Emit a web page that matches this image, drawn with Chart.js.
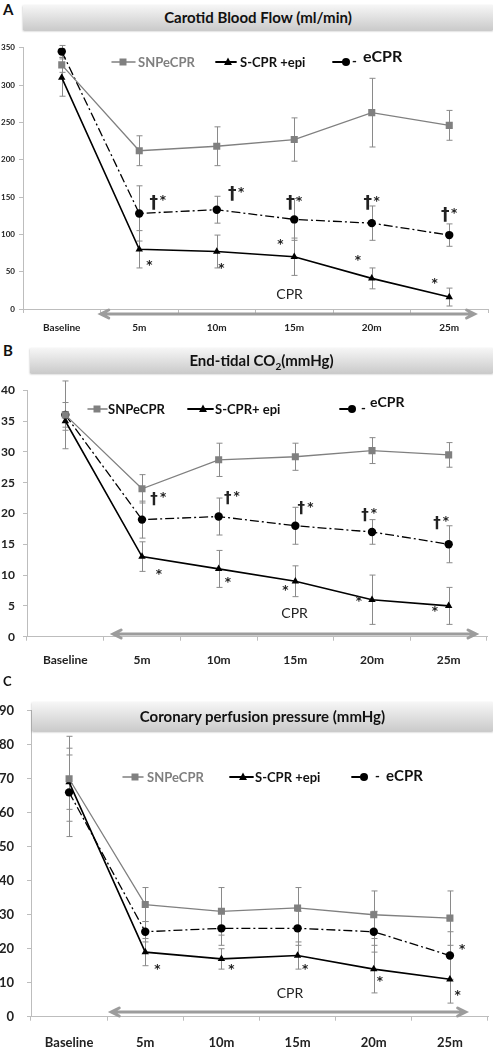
<!DOCTYPE html>
<html>
<head>
<meta charset="utf-8">
<script src="https://cdn.jsdelivr.net/npm/chart.js"></script>
<style>
  body { margin: 0; background: #fff; font-family: Lato, sans-serif; }
  #wrap { position: relative; width: 493px; height: 1048px; overflow: hidden; }
  canvas { position: absolute; left: 0; }
  .letter { position: absolute; left: 3px; font: bold 15px Lato, sans-serif; color: #111; }
  .ttl {
    position: absolute; right: 0; text-align: center; color: #111;
    font: bold 15px Lato, sans-serif;
    background: linear-gradient(#f6f6f6, #cbcbcb);
    box-shadow: 0 1px 2px rgba(0,0,0,.3);
    z-index: 2;
  }
</style>
</head>
<body>
<div id="wrap">
  <div class="letter" style="top:0px">A</div>
  <div class="ttl" style="left:23px;top:5px;height:25px;line-height:25px">Carotid Blood Flow (ml/min)</div>
  <canvas id="cA" width="493" height="305" style="top:35px"></canvas>

  <div class="letter" style="top:341px">B</div>
  <div class="ttl" style="left:30px;top:348px;height:25px;line-height:25px">End-tidal CO<sub style="font-size:10px">2</sub>(mmHg)</div>
  <canvas id="cB" width="493" height="300" style="top:375px"></canvas>

  <div class="letter" style="top:673px;font-size:13px">C</div>
  <div class="ttl" style="left:32px;top:702px;height:29px;line-height:29px">Coronary perfusion pressure (mmHg)</div>
  <canvas id="cC" width="493" height="358" style="top:690px"></canvas>
</div>

<script>
// x categories
var categories = ["Baseline", "5m", "10m", "15m", "20m", "25m"];
var namesA = ["SNPeCPR", "S-CPR +epi", "eCPR"];
var namesB = ["SNPeCPR", "S-CPR+ epi", "eCPR"];

// A - carotid blood flow (ml/min)
var flowSNP = [327, 212, 218, 227, 263, 246];
var flowSNPErr = [10, 20, 26, 29, 46, 20];
var flowEpi = [310, 80, 77, 70, 41, 16];
var flowEpiErr = [25, 25, 22, 25, 14, 12];
var flowE = [345, 128, 133, 120, 115, 99];
var flowEErr = [8, 37, 18, 28, 23, 15];
var flowDagger = [[1.24, 143], [2.25, 154], [3.0, 142], [4.0, 142], [5.0, 126]];
var flowStar = [[1.13, 60], [2.06, 56], [2.82, 88], [3.82, 67], [4.81, 37]];

// B - end-tidal CO2 (mmHg)
var etSNP = [36, 24, 28.7, 29.2, 30.2, 29.5];
var etSNPErr = [2, 2.3, 2.7, 2.2, 2.1, 2];
var etEpi = [35, 13, 11, 9, 6, 5];
var etEpiErr = [1.5, 2.4, 3, 2.5, 4, 3];
var etE = [36, 19, 19.5, 18, 17, 15];
var etEErr = [5.5, 3, 3, 3, 2, 3];
var etDagger = [[1.21, 22.4], [2.17, 22.5], [3.13, 20.8], [3.96, 19.7], [4.9, 18.4]];
var etStar = [[1.22, 10.4], [2.12, 9.0], [2.87, 7.7], [3.83, 6.0], [4.82, 4.4]];

// C - coronary perfusion pressure (mmHg)
var cppSNP = [70, 33, 31, 32, 30, 29];
var cppSNPErr = [12.5, 5, 7, 6, 7, 8];
var cppEpi = [69, 19, 17, 18, 14, 11];
var cppEpiErr = [8, 4, 3, 4, 7, 7];
var cppE = [66, 25, 26, 26, 25, 18];
var cppEErr = [13, 3, 5, 5, 6, 7];
var cppStar = [[1.16, 14.3], [2.13, 14.3], [3.1, 14.3], [4.08, 10.8], [5.1, 6.8], [5.16, 20.3]];

function drawMark(ctx, kind, x, y, r, color) {
  ctx.fillStyle = color;
  ctx.beginPath();
  if (kind === "rect") {
    ctx.rect(x - r, y - r, 2 * r, 2 * r);
  } else if (kind === "triangle") {
    ctx.moveTo(x, y - r * 1.1);
    ctx.lineTo(x + r, y + r * 0.75);
    ctx.lineTo(x - r, y + r * 0.75);
    ctx.closePath();
  } else {
    ctx.arc(x, y, r, 0, Math.PI * 2);
  }
  ctx.fill();
}

var extras = {
  id: "extras",
  beforeDatasetsDraw: function (chart, args, o) {
    var ctx = chart.ctx, xs = chart.scales.x, ys = chart.scales.y;
    ctx.save();
    ctx.strokeStyle = "#8a8a8a";
    ctx.lineWidth = 1;
    o.errors.forEach(function (err, d) {
      var vals = chart.data.datasets[d].data;
      err.forEach(function (e, i) {
        var px = Math.round(xs.getPixelForValue(i)) + 0.5;
        var t = ys.getPixelForValue(vals[i] + e), b = ys.getPixelForValue(vals[i] - e);
        ctx.beginPath();
        ctx.moveTo(px, t); ctx.lineTo(px, b);
        ctx.moveTo(px - 3, t); ctx.lineTo(px + 3, t);
        ctx.moveTo(px - 3, b); ctx.lineTo(px + 3, b);
        ctx.stroke();
      });
    });
    ctx.restore();
  },
  afterDraw: function (chart, args, o) {
    var ctx = chart.ctx, xs = chart.scales.x, ys = chart.scales.y, area = chart.chartArea;
    ctx.save();

    // CPR double arrow
    var a0 = xs.getPixelForValue(o.arrow[0]), a1 = xs.getPixelForValue(o.arrow[1]);
    var ay = area.bottom + o.arrowDy;
    ctx.strokeStyle = "#9c9c9c";
    ctx.lineWidth = 3;
    ctx.lineCap = "round";
    ctx.beginPath();
    ctx.moveTo(a0 + 2, ay); ctx.lineTo(a1 - 2, ay);
    ctx.moveTo(a0 + 9, ay - 4); ctx.lineTo(a0 + 1, ay); ctx.lineTo(a0 + 9, ay + 4);
    ctx.moveTo(a1 - 9, ay - 4); ctx.lineTo(a1 - 1, ay); ctx.lineTo(a1 - 9, ay + 4);
    ctx.stroke();

    ctx.fillStyle = "#222";
    ctx.textAlign = "center";
    ctx.textBaseline = "middle";
    ctx.font = "14px Lato";
    ctx.fillText("CPR", xs.getPixelForValue(o.cpr[0]), ys.getPixelForValue(o.cpr[1]));

    // significance marks
    (o.daggers || []).forEach(function (p) {
      var px = xs.getPixelForValue(p[0]), py = ys.getPixelForValue(p[1]);
      ctx.font = "bold " + o.daggerSize + "px 'DejaVu Sans'";
      ctx.fillText("\u2020", px - 4, py + 1);
      ctx.font = "bold 12px 'DejaVu Sans'";
      ctx.fillText("*", px + 5, py - 1);
    });
    ctx.font = "bold 12px 'DejaVu Sans'";
    (o.stars || []).forEach(function (p) {
      ctx.fillText("*", xs.getPixelForValue(p[0]), ys.getPixelForValue(p[1]) + 2);
    });

    // legend
    var lg = o.legend, names = chart.data.datasets.map(function (d) { return d.label; });
    var kinds = ["rect", "triangle", "circle"], cols = ["#808080", "#000", "#000"];
    ctx.textAlign = "left";
    lg.items.forEach(function (it, i) {
      ctx.strokeStyle = cols[i];
      ctx.lineWidth = i === 0 ? 1.5 : 1.8;
      ctx.beginPath();
      ctx.moveTo(it[0], lg.y); ctx.lineTo(it[1], lg.y);
      ctx.stroke();
      drawMark(ctx, kinds[i], it[2], lg.y, i === 0 ? 3.5 : 4, cols[i]);
      if (i < 2) {
        ctx.fillStyle = i === 0 ? lg.snpColor : "#111";
        ctx.font = "bold 13px Lato";
        ctx.fillText(names[i], it[3], lg.y + 1);
      } else {
        ctx.fillStyle = "#111";
        ctx.font = "bold 13px Lato";
        ctx.fillText("-", it[4], lg.y);
        ctx.font = "bold " + lg.eSize + "px Lato";
        ctx.fillText(names[i], it[3], lg.eY);
      }
    });
    ctx.restore();
  }
};

function makeChart(id, p) {
  var tickFont = function (s) { return { family: "Lato", weight: "bold", size: s }; };
  return new Chart(document.getElementById(id), {
    type: "line",
    data: {
      labels: categories,
      datasets: [
        { label: p.names[0], data: p.series[0], borderColor: "#808080", backgroundColor: "#808080",
          borderWidth: 1.3, pointStyle: "rect", pointRadius: 5, pointBorderWidth: 0 },
        { label: p.names[1], data: p.series[1], borderColor: "#000", backgroundColor: "#000",
          borderWidth: 1.6, pointStyle: "triangle", pointRadius: 4.3, pointBorderWidth: 0 },
        { label: p.names[2], data: p.series[2], borderColor: "#000", backgroundColor: "#000",
          borderWidth: 1.3, borderDash: [9, 3, 2, 3], pointStyle: "circle", pointRadius: 4.2, pointBorderWidth: 0 }
      ]
    },
    options: {
      responsive: false,
      animation: false,
      layout: { padding: { top: p.padTop, right: p.padRight, left: 0, bottom: 0 } },
      plugins: { legend: { display: false }, tooltip: { enabled: false }, extras: p.extras },
      scales: {
        x: {
          offset: true,
          grid: { drawOnChartArea: false, tickLength: 4, color: "#bdbdbd", offset: true },
          border: { color: "#bdbdbd" },
          ticks: { font: tickFont(p.xFont), color: "#222", padding: p.xPad, maxRotation: 0, autoSkip: false },
          afterFit: function (s) { s.height = p.xH; }
        },
        y: {
          min: 0, max: p.max,
          grid: { drawOnChartArea: false, tickLength: 4, color: "#bdbdbd" },
          border: { color: "#bdbdbd" },
          ticks: { stepSize: p.step, font: tickFont(p.yFont), color: "#222", padding: p.yPad },
          afterFit: function (s) { s.width = p.yW; }
        }
      }
    },
    plugins: [extras]
  });
}

makeChart("cA", {
  names: namesA, series: [flowSNP, flowEpi, flowE],
  max: 350, step: 50, yFont: 8, yW: 23, yPad: 4,
  xFont: 10, xPad: 9, xH: 31, padTop: 12.7, padRight: 4,
  extras: {
    errors: [flowSNPErr, flowEpiErr, flowEErr],
    arrow: [0.49, 5.34], arrowDy: 5, cpr: [2.94, 20],
    daggers: flowDagger, stars: flowStar, daggerSize: 17,
    legend: { y: 27, snpColor: "#7f7f7f", eSize: 16, eY: 22,
      items: [[112, 135, 123, 138], [216, 236, 228, 240], [333, 343, 346, 363, 352]] }
  }
});

makeChart("cB", {
  names: namesB, series: [etSNP, etEpi, etE],
  max: 40, step: 5, yFont: 12, yW: 27, yPad: 8,
  xFont: 12, xPad: 12, xH: 38.3, padTop: 8.3, padRight: 6,
  extras: {
    errors: [etSNPErr, etEpiErr, etEErr],
    arrow: [0.61, 5.37], arrowDy: -2.7, cpr: [2.99, 3.7],
    daggers: etDagger, stars: etStar, daggerSize: 15,
    legend: { y: 34, snpColor: "#111", eSize: 14, eY: 27,
      items: [[88, 107, 97, 108], [188, 213, 203, 215], [340, 348, 352, 370, 361]] }
  }
});

makeChart("cC", {
  names: namesA, series: [cppSNP, cppEpi, cppE],
  max: 90, step: 10, yFont: 13, yW: 31, yPad: 13,
  xFont: 13, xPad: 14.3, xH: 31.3, padTop: 13.3, padRight: 5,
  extras: {
    errors: [cppSNPErr, cppEpiErr, cppEErr],
    arrow: [0.54, 5.22], arrowDy: -4.7, cpr: [2.9, 6.8],
    daggers: [], stars: cppStar, daggerSize: 15,
    legend: { y: 87, snpColor: "#7f7f7f", eSize: 15, eY: 86,
      items: [[123, 143, 135, 147], [230, 253, 243, 255], [352, 360, 364, 386, 375]] }
  }
});
</script>
</body>
</html>
